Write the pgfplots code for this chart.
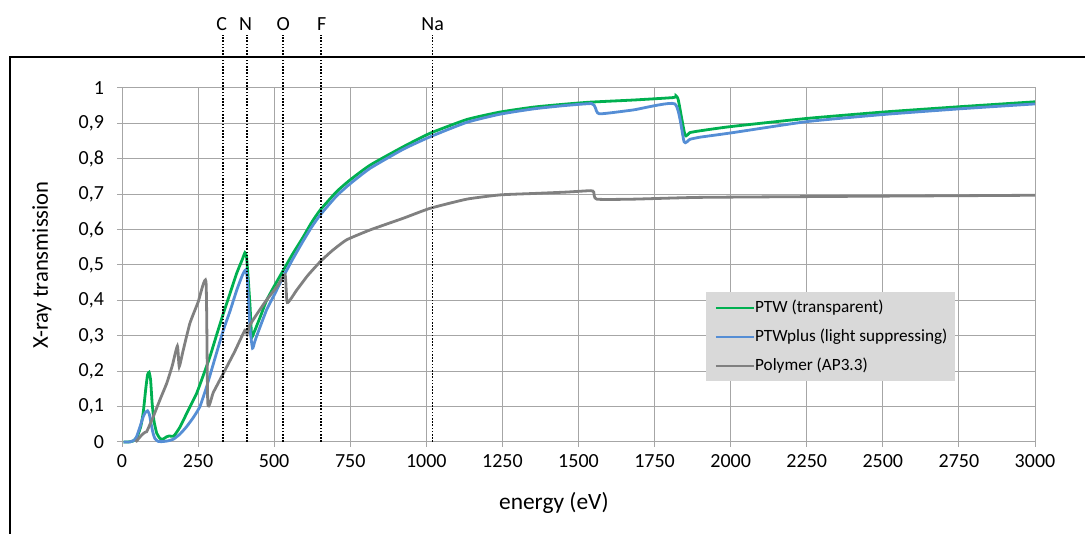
\documentclass[border=0pt]{standalone}
\usepackage{fontspec}
\setmainfont{Carlito}
\usepackage{pgfplots}
\pgfplotsset{compat=1.18}
\definecolor{ptwgreen}{HTML}{00B050}
\definecolor{ptwblue}{HTML}{558ED5}
\definecolor{polygray}{HTML}{808080}
\definecolor{gridgray}{HTML}{A6A6A6}
\definecolor{legfill}{HTML}{D9D9D9}
\begin{document}
\begin{tikzpicture}
\path[use as bounding box] (0,0) rectangle (542.5pt,267pt);
\draw[line width=1pt] (5pt,-1pt) -- (5pt,238.5pt) -- (544pt,238.5pt);
\begin{axis}[
  at={(61pt,46pt)}, anchor=south west,
  scale only axis, width=456.5pt, height=177pt,
  xmin=0, xmax=3000, ymin=0, ymax=1,
  xtick={0,250,500,750,1000,1250,1500,1750,2000,2250,2500,2750,3000},
  ytick={0,0.1,0.2,0.3,0.4,0.5,0.6,0.7,0.8,0.9,1},
  grid=major, grid style={gridgray, line width=0.5pt},
  axis line style={gridgray, line width=0.5pt},
  tick pos=left, tick align=outside, major tick length=2.5pt,
  tick style={gridgray, line width=0.5pt},
  /pgf/number format/use comma,
  /pgf/number format/1000 sep={},
  /pgf/number format/assume math mode=true,
  ticklabel style={font=\fontsize{10}{12}\selectfont},
  yticklabel style={xshift=-3pt},
  xlabel={energy (eV)}, ylabel={X-ray transmission},
  xlabel style={at={(axis description cs:0.473,-0.1723)}, anchor=center, font=\fontsize{11.7}{14}\selectfont},
  ylabel style={at={(axis description cs:-0.0876,0.5)}, anchor=center, font=\fontsize{11.3}{13}\selectfont},
  clip=false,
  legend style={at={(axis description cs:0.6396,0.4237)}, anchor=north west,
    fill=legfill, draw=none, font=\fontsize{8.6}{10}\selectfont,
    inner xsep=4pt, inner ysep=0.5pt, row sep=0pt, column sep=0pt,
    nodes={inner sep=0pt, minimum height=14.5pt},
    /tikz/every even column/.append style={column sep=1.5pt}},
  legend cell align=left,
  legend image code/.code={\draw[#1] (0pt,0pt) -- (19pt,0pt);},
  every axis plot/.append style={smooth, tension=0.3},
]
\addplot[ptwgreen, line width=1.4pt] coordinates {
(5,0) (20,0) (37,0.003) (50,0.015) (62,0.045) (70,0.085) (78,0.15) (84,0.19) (89,0.197) (94,0.175) (99,0.11) (105,0.06) (114,0.025) (125,0.01) (135,0.008) (145,0.014) (155,0.017) (169,0.016) (180,0.028) (191,0.043) (215,0.085) (245,0.137) (270,0.195) (289,0.241) (310,0.30) (333,0.363) (355,0.42) (377,0.477) (395,0.515) (404,0.535) (409,0.525) (415,0.458) (421,0.38) (426,0.298) (432,0.306) (437,0.316) (455,0.355) (475,0.40) (500,0.44) (530,0.485) (560,0.53) (596,0.58) (623,0.62) (651,0.655) (705,0.707) (749,0.74) (815,0.782) (924,0.834) (1012,0.872) (1133,0.911) (1242,0.932) (1352,0.946) (1450,0.954) (1538,0.96) (1680,0.966) (1812,0.973) (1820,0.978) (1828,0.966) (1850,0.867) (1866,0.874) (1899,0.879) (2000,0.891) (2250,0.914) (2500,0.932) (2750,0.947) (3000,0.961)
};
\addlegendentry{PTW (transparent)}
\addplot[ptwblue, line width=1.4pt] coordinates {
(5,0) (25,0) (40,0.005) (48,0.015) (60,0.045) (70,0.072) (78,0.085) (84,0.088) (90,0.078) (96,0.05) (102,0.025) (108,0.01) (118,0.002) (130,0.001) (150,0.003) (169,0.008) (190,0.022) (212,0.043) (235,0.07) (256,0.10) (278,0.156) (305,0.235) (333,0.316) (355,0.37) (377,0.429) (395,0.47) (406,0.486) (412,0.46) (421,0.316) (429,0.265) (435,0.28) (442,0.298) (475,0.373) (500,0.415) (530,0.467) (560,0.515) (596,0.569) (623,0.607) (651,0.641) (705,0.695) (749,0.729) (815,0.773) (924,0.827) (1012,0.862) (1133,0.903) (1242,0.926) (1352,0.941) (1450,0.95) (1543,0.956) (1555,0.945) (1569,0.927) (1680,0.938) (1817,0.955) (1847,0.848) (1866,0.855) (1899,0.861) (2000,0.873) (2250,0.905) (2500,0.925) (2750,0.941) (3000,0.955)
};
\addlegendentry{PTWplus (light suppressing)}
\addplot[polygray, line width=1.4pt] coordinates {
(45,0) (55,0.01) (65,0.02) (75,0.027) (81,0.029) (92,0.05) (103,0.072) (125,0.12) (147,0.166) (165,0.215) (182,0.271) (188,0.213) (200,0.255) (223,0.335) (250,0.395) (276,0.453) (282,0.109) (300,0.14) (333,0.194) (370,0.255) (404,0.316) (411,0.305) (420,0.33) (450,0.37) (475,0.401) (510,0.44) (536,0.472) (543,0.394) (574,0.429) (610,0.47) (651,0.509) (690,0.54) (738,0.571) (815,0.599) (924,0.632) (1012,0.66) (1133,0.686) (1242,0.698) (1352,0.702) (1461,0.706) (1540,0.710) (1550,0.706) (1560,0.686) (1680,0.686) (1899,0.691) (2400,0.694) (2808,0.696) (3000,0.697)
};
\addlegendentry{Polymer (AP3.3)}
\draw[black, line width=0.9pt, dash pattern=on 0.8pt off 0.8pt] (axis cs:331,0) -- (axis cs:331,1.1497);
\draw[black, line width=0.9pt, dash pattern=on 0.8pt off 0.8pt] (axis cs:410,0) -- (axis cs:410,1.1497);
\draw[black, line width=0.9pt, dash pattern=on 0.8pt off 0.8pt] (axis cs:529,0) -- (axis cs:529,1.1497);
\draw[black, line width=0.9pt, dash pattern=on 0.8pt off 0.8pt] (axis cs:655,0) -- (axis cs:655,1.1497);
\draw[black, line width=0.9pt, dash pattern=on 0.8pt off 0.8pt] (axis cs:1020,0) -- (axis cs:1020,1.1497);
\node[anchor=base, font=\fontsize{10}{12}\selectfont] at (axis cs:328,1.1638) {C};
\node[anchor=base, font=\fontsize{10}{12}\selectfont] at (axis cs:406,1.1638) {N};
\node[anchor=base, font=\fontsize{10}{12}\selectfont] at (axis cs:530,1.1638) {O};
\node[anchor=base, font=\fontsize{10}{12}\selectfont] at (axis cs:656,1.1638) {F};
\node[anchor=base, font=\fontsize{10}{12}\selectfont] at (axis cs:1021,1.1638) {Na};
\end{axis}
\end{tikzpicture}
\end{document}
